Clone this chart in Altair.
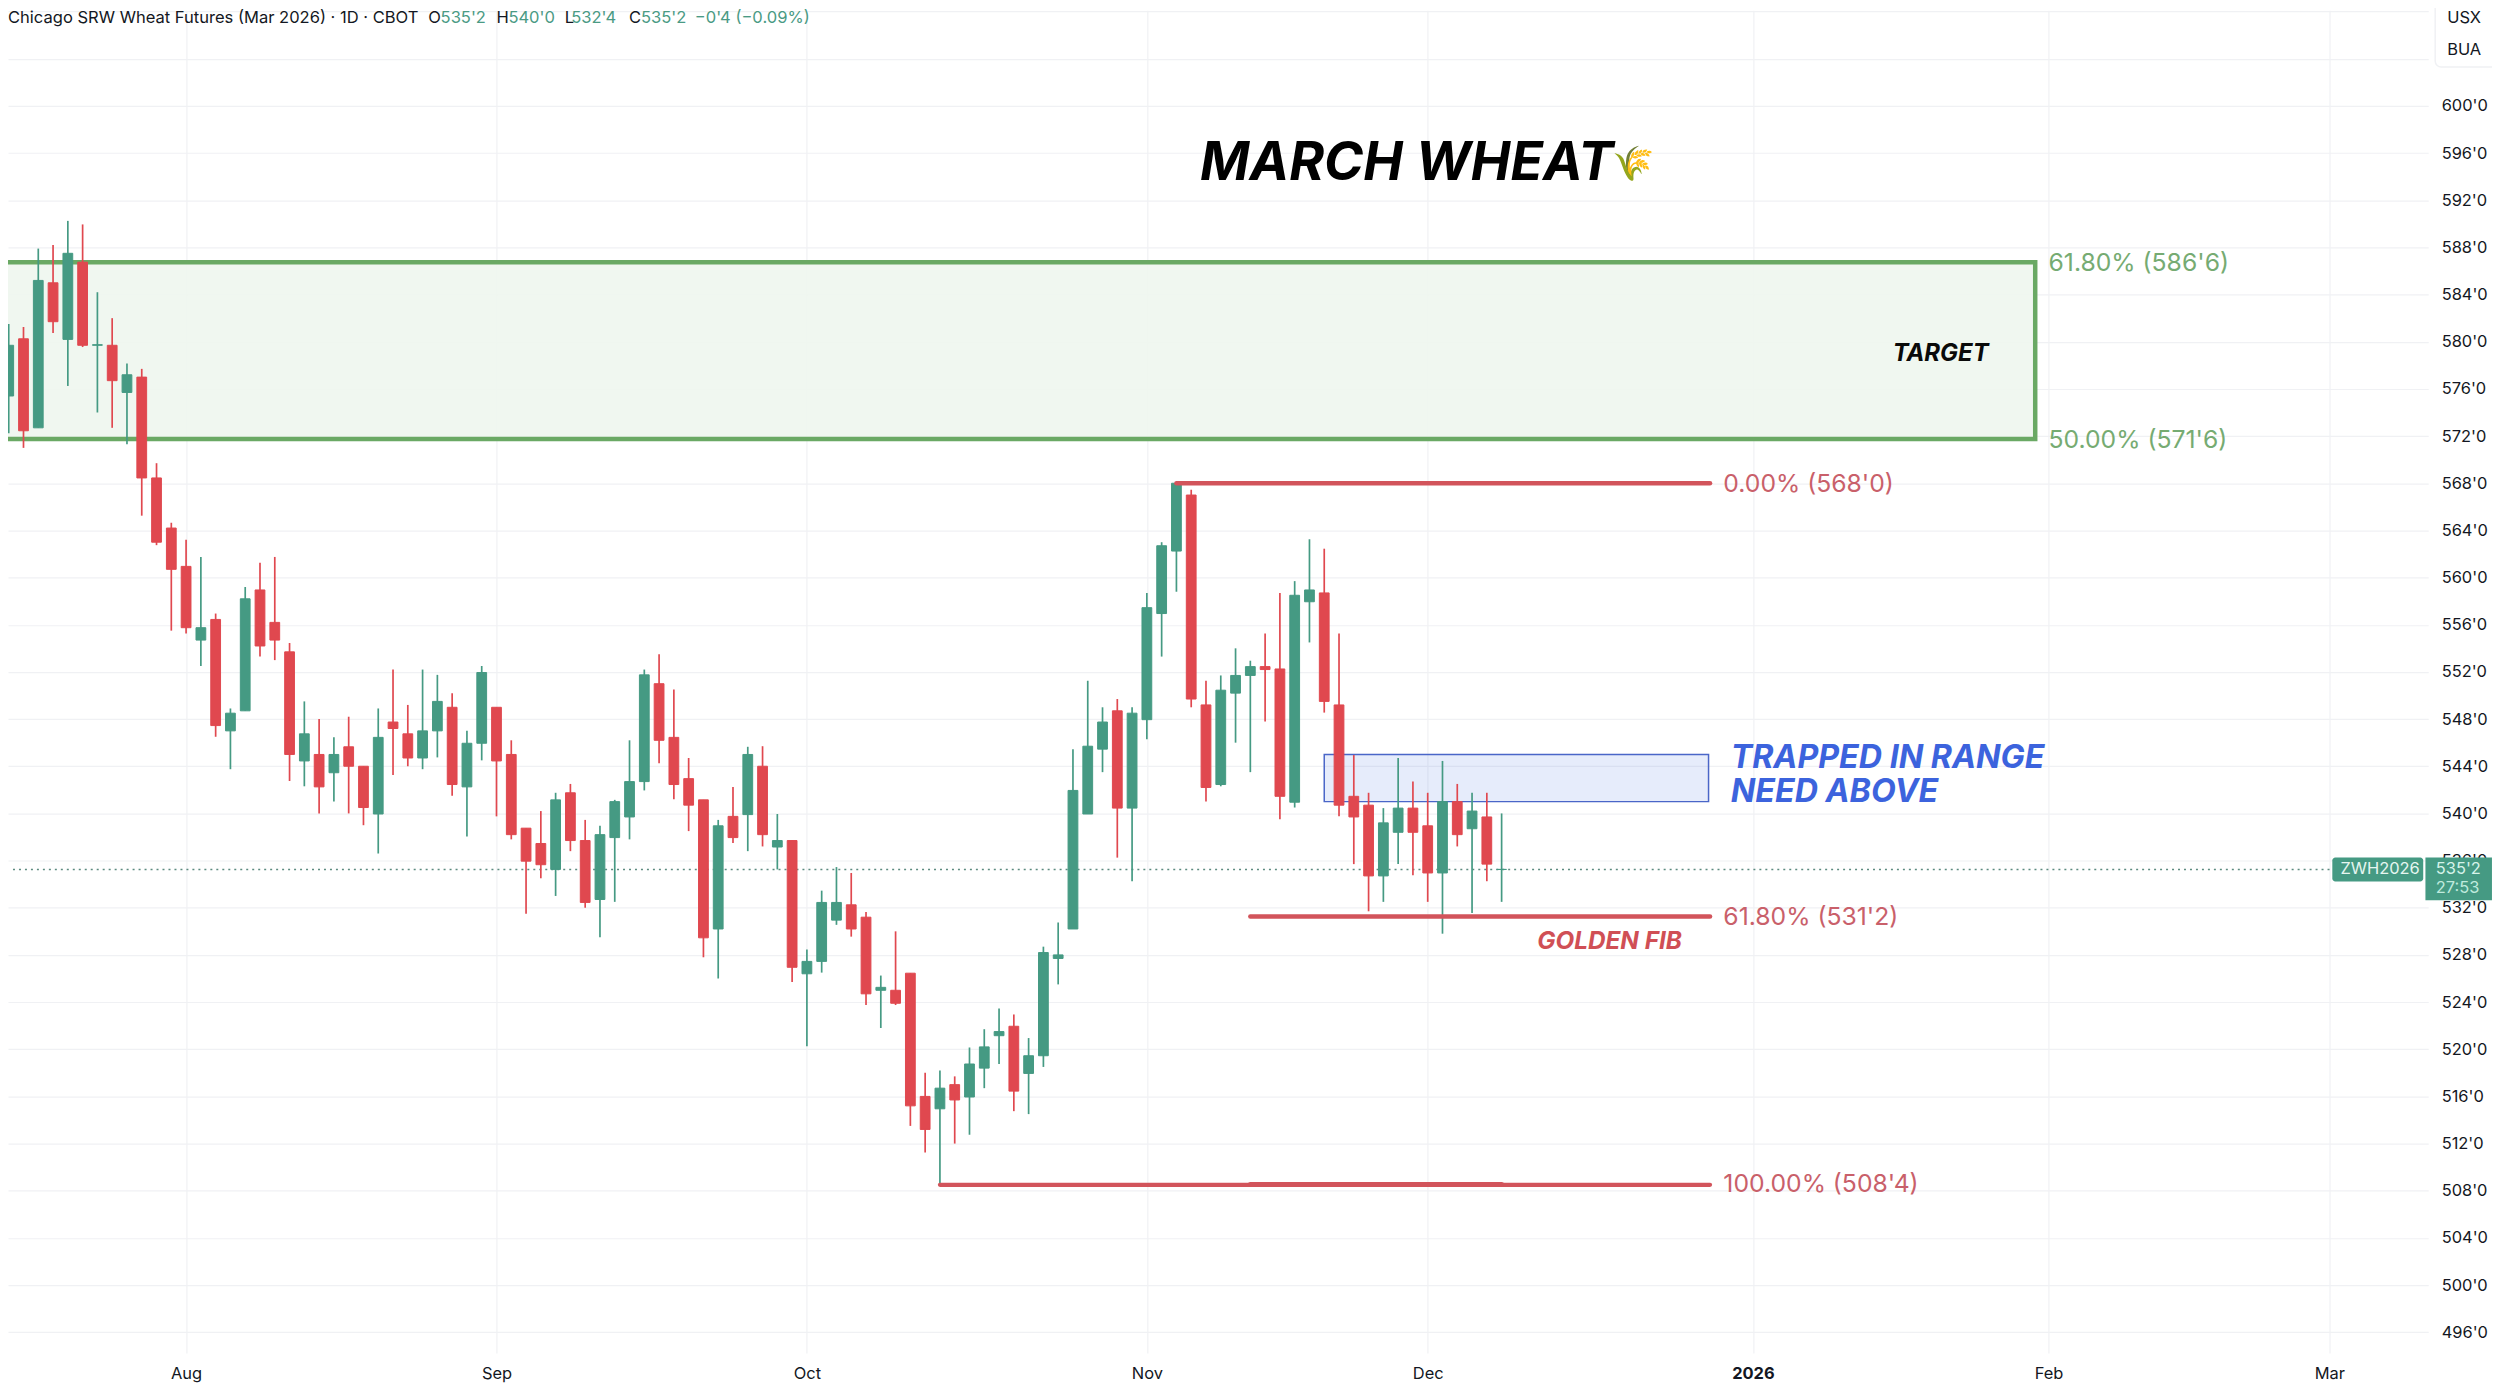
import json
import altair as alt
import pandas as pd

# ---------- values ----------
opens = [575.4,580.25,572.7,585.0,580.2,586.75,579.7,579.7,575.7,577.0,568.45,564.2,560.95,554.7,556.45,547.0,548.7,558.95,556.2,553.7,
         544.45,545.0,543.45,545.65,544.0,539.95,547.75,546.75,544.7,547.0,549.0,542.25,545.95,549.0,545.0,538.75,537.45,535.25,541.75,537.7,
         532.7,537.95,539.7,542.7,551.0,546.45,542.95,541.15,530.2,539.75,539.9,544.0,537.15,537.7,526.4,527.45,530.95,532.25,531.2,525.0,
         525.0,526.45,516.0,514.95,517.0,515.95,518.4,521.15,521.95,517.95,519.45,527.7,530.2,539.95,545.45,548.7,540.45,547.95,556.95,562.25,
         567.0,549.2,542.45,550.2,551.7,552.45,552.25,540.95,557.95,558.7,549.2,541.45,540.7,534.7,538.4,540.45,538.95,534.95,541.0,538.7,
         539.7,535.25]
highs = [581.5,581.25,587.9,588.2,590.25,589.95,584.2,582.0,578.15,577.7,569.7,564.65,563.2,561.75,556.95,548.9,559.2,561.25,561.75,554.45,
         549.5,548.0,546.45,548.2,544.0,548.9,552.2,549.2,552.2,551.75,550.2,547.0,552.5,549.0,546.2,538.75,540.2,541.75,542.5,539.45,
         538.95,541.15,546.2,552.2,553.5,550.5,544.7,541.15,539.45,542.25,545.65,545.7,539.95,537.7,528.45,533.45,535.45,534.95,531.65,526.25,
         530.0,526.45,518.0,518.2,517.7,520.15,521.7,523.45,522.95,520.95,528.7,530.75,545.45,551.25,549.0,549.7,549.0,558.7,563.0,568.0,
         567.45,551.25,551.7,554.0,552.95,555.25,558.7,559.7,563.25,562.45,555.25,544.95,541.75,540.45,544.7,542.7,541.75,544.45,542.5,541.75,
         541.75,540.0]
lows = [572.25,571.0,572.7,580.75,576.25,579.55,574.0,572.7,571.3,565.25,562.75,555.5,555.25,552.5,546.5,543.75,548.7,553.3,553.0,542.75,
        542.3,540.0,541.0,540.0,539.0,536.6,543.25,544.0,543.75,544.75,541.5,538.05,544.5,539.75,537.8,531.5,534.5,533.0,536.8,532.0,
        529.5,532.5,537.8,541.95,544.25,541.2,538.5,527.8,526.0,537.5,536.8,537.2,535.25,525.7,520.25,526.5,530.55,529.55,523.75,521.8,
        523.75,513.5,511.25,508.5,512.0,512.75,516.7,518.75,514.75,514.5,518.5,525.5,530.2,539.95,543.5,536.25,534.25,546.3,553.3,558.8,
        549.0,541.0,542.3,546.0,543.5,547.8,539.5,540.5,554.5,548.55,539.75,535.7,531.7,532.5,535.7,534.75,532.5,529.8,537.2,531.55,
        534.25,532.5]
closes = [579.7,572.45,585.2,581.7,587.5,579.7,579.75,576.7,577.2,568.45,563.0,560.7,555.75,555.75,547.45,548.5,558.2,554.2,554.7,545.0,
          546.75,542.25,545.0,544.0,540.5,546.45,547.2,544.7,547.0,549.5,542.45,545.95,551.95,544.45,538.2,535.95,535.65,541.15,537.7,532.45,
          538.2,541.0,542.7,551.75,546.2,542.45,540.7,529.45,538.95,537.95,545.0,538.2,537.7,526.95,527.45,532.45,532.45,530.2,524.7,525.25,
          523.9,515.2,513.2,516.7,515.7,518.75,520.2,521.5,516.45,519.45,528.2,528.0,541.95,545.7,547.75,540.45,548.5,557.45,562.7,568.0,
          549.7,542.2,550.45,551.7,552.45,552.2,541.45,558.5,558.95,549.5,540.7,539.7,534.7,539.2,540.45,538.4,534.95,541.0,538.2,540.2,
          535.7,535.25]

price_ticks = list(range(496, 612, 4))
month_pos = [12, 33, 54, 77, 96, 118, 138, 157]
month_labels = ["Aug", "Sep", "Oct", "Nov", "Dec", "2026", "Feb", "Mar"]
last_price = 535.25

# ---------- style ----------
GREEN = "#459a83"
RED = "#e0484f"
FIB_RED = "#d2545b"
FIB_TXT = "#c9606a"
ZONE = "#6aa964"
ZONE_TXT = "#76ab72"
BLUE = "#3c63dd"
INK = "#131722"
GRID = "#f0f1f4"
FONT = "Inter"
XDOM = [0.2888, 163.35]
YDOM = [494.25, 608.115]
xs = alt.Scale(domain=XDOM, nice=False, zero=False)
ys = alt.Scale(domain=YDOM, nice=False, zero=False)

x_axis = alt.Axis(
    values=month_pos, orient="bottom", domain=False, ticks=False,
    gridColor=GRID, grid=True, gridWidth=1.2,
    labelExpr=f"{json.dumps(month_labels)}[indexof({json.dumps(month_pos)}, datum.value)]",
    labelFont=FONT, labelFontSize=16.5, labelColor=INK, labelPadding=13,
    labelFlush=False, labelOverlap=False,
    labelFontWeight={"condition": {"test": "datum.value == 118", "value": 700}, "value": 400},
)
y_axis = alt.Axis(
    values=price_ticks, orient="right", domain=False, ticks=False,
    gridColor=GRID, grid=True, gridWidth=1.2,
    labelExpr="datum.value > 600 ? '' : format(datum.value, 'd') + \"'0\"",
    labelFont=FONT, labelFontSize=16.5, labelColor=INK, labelPadding=13,
    labelFlush=False, labelOverlap=False,
)

df = pd.DataFrame({"i": range(len(opens)), "o": opens, "h": highs, "l": lows, "c": closes})
df["dir"] = ["up" if c >= o else "down" for o, c in zip(opens, closes)]
dir_scale = alt.Scale(domain=["up", "down"], range=[GREEN, RED])

def X(f="i"):
    return alt.X(f"{f}:Q", scale=xs, axis=x_axis, title=None)

def Y(f="p"):
    return alt.Y(f"{f}:Q", scale=ys, axis=y_axis, title=None)

def rect(x0, x1, p0, p1, **kw):
    d = pd.DataFrame([{"x0": x0, "x1": x1, "p0": p0, "p1": p1}])
    return alt.Chart(d).mark_rect(**kw).encode(x=X("x0"), x2="x1:Q", y=Y("p0"), y2="p1:Q")

def hline(x0, x1, p, **kw):
    d = pd.DataFrame([{"x0": x0, "x1": x1, "p": p}])
    return alt.Chart(d).mark_rule(**kw).encode(x=X("x0"), x2="x1:Q", y=Y("p"))

def label(text, i, p, size, color, weight="normal", italic=False, align="left"):
    d = pd.DataFrame([{"t": text, "i": i, "p": p}])
    return alt.Chart(d).mark_text(
        font=FONT, fontSize=size, color=color, fontWeight=weight,
        fontStyle="italic" if italic else "normal", align=align, baseline="middle"
    ).encode(x=X("i"), y=Y("p"), text="t:N")

def px_text(text, x, y, size, color):
    d = pd.DataFrame([{"t": text}])
    return alt.Chart(d).mark_text(
        font=FONT, fontSize=size, color=color, align="left", baseline="middle"
    ).encode(x=alt.value(x), y=alt.value(y), text="t:N")

zone = rect(-2, 137.1, 586.75, 571.75, fill="#eef6ee", fillOpacity=0.9, stroke=ZONE, strokeWidth=4.5, clip=True)
rng = rect(89.0, 115.0, 545.0, 541.0, fill="#3d6ae0", fillOpacity=0.13, stroke="#4a66c8", strokeWidth=1.5)
last_line = hline(XDOM[0], 157.2, last_price, color="#5d8b80", strokeWidth=1.5, strokeDash=[2, 4])

wicks = alt.Chart(df).mark_rule(strokeWidth=1.7).encode(
    x=X(), y=Y("h"), y2="l:Q",
    color=alt.Color("dir:N", scale=dir_scale, legend=None),
)
bodies = alt.Chart(df).mark_bar(size=9.8, strokeWidth=1).encode(
    x=X(), y=Y("o"), y2="c:Q",
    color=alt.Color("dir:N", scale=dir_scale, legend=None),
    stroke=alt.Stroke("dir:N", scale=dir_scale, legend=None),
)

fibs = [
    hline(79, 115.1, 568.0, color=FIB_RED, strokeWidth=4.5, strokeCap="round"),
    hline(84, 115.1, 531.25, color=FIB_RED, strokeWidth=4.5, strokeCap="round"),
    hline(63, 115.1, 508.5, color=FIB_RED, strokeWidth=4.2, strokeCap="round"),
    hline(84, 101, 508.55, color=FIB_RED, strokeWidth=4.8, strokeCap="round"),
]

labels = [
    label("61.80% (586'6)", 138.0, 586.6, 24.8, ZONE_TXT),
    label("50.00% (571'6)", 138.0, 571.6, 24.8, ZONE_TXT),
    label("0.00% (568'0)", 116.0, 567.85, 24.8, FIB_TXT),
    label("61.80% (531'2)", 116.0, 531.15, 24.8, FIB_TXT),
    label("100.00% (508'4)", 116.0, 508.45, 24.8, FIB_TXT),
    label("GOLDEN FIB", 108.3, 529.08, 24.4, "#d04f55", "bold", True, "center"),
    label("TARGET", 130.7, 578.95, 24, "#0a0a0a", "bold", True, "center"),
    label("TRAPPED IN RANGE", 116.5, 544.72, 32.3, BLUE, "bold", True),
    label("NEED ABOVE", 116.5, 541.84, 32.3, BLUE, "bold", True),
    label("MARCH WHEAT", 80.6, 595.1, 53.3, "#000000", "bold", True),
    label("\U0001F33E", 109.9, 595.0, 34, "#8fb564", align="center"),
]

# right-hand tags
tag_name = rect(157.2, 163.35, 536.26, 534.23, fill=GREEN, cornerRadius=3)
tag_price = rect(163.5, 168.0, 536.26, 532.63, fill=GREEN)
tags = [
    tag_name,
    tag_price,
    label("ZWH2026", 157.75, last_price, 16.5, "#e6f6f0"),
    label("535'2", 164.2, last_price, 16.5, "#d6f3ea"),
    label("27:53", 164.2, 533.65, 16.5, "#bfeadd"),
]

# header and currency box (outside the data region)
box = alt.Chart(pd.DataFrame({"a": [0]})).mark_rect(
    fill="#ffffff", stroke=GRID, strokeWidth=1.5, cornerRadius=6
).encode(x=alt.value(2435), x2=alt.value(2520), y=alt.value(-10), y2=alt.value(57))

header_y = 8
TXT_G = "#4a9a84"
HS = 16.6
header = [
    px_text("Chicago SRW Wheat Futures (Mar 2026) · 1D · CBOT", 0, header_y, HS, INK),
    px_text("O", 421.5, header_y, HS, INK),
    px_text("535'2", 434, header_y, HS, TXT_G),
    px_text("H", 490, header_y, HS, INK),
    px_text("540'0", 502, header_y, HS, TXT_G),
    px_text("L", 558.5, header_y, HS, INK),
    px_text("532'4", 565, header_y, HS, TXT_G),
    px_text("C", 623, header_y, HS, INK),
    px_text("535'2", 635, header_y, HS, TXT_G),
    px_text("\u22120'4 (\u22120.09%)", 689, header_y, HS, TXT_G),
    px_text("USX", 2447, header_y, 16.5, INK),
    px_text("BUA", 2447, 40, 16.5, INK),
]

chart = alt.layer(
    zone, rng, last_line, wicks, bodies, *fibs, *labels, *tags, box, *header
).resolve_scale(color="independent").properties(
    width=2428, height=1347,
    padding={"left": 0, "top": 0, "right": 64, "bottom": 34},
    autosize=alt.AutoSizeParams(type="none"),
    background="#ffffff",
).configure_view(stroke=None)

chart.save("out.html", embed_options={"renderer": "svg", "actions": False})
